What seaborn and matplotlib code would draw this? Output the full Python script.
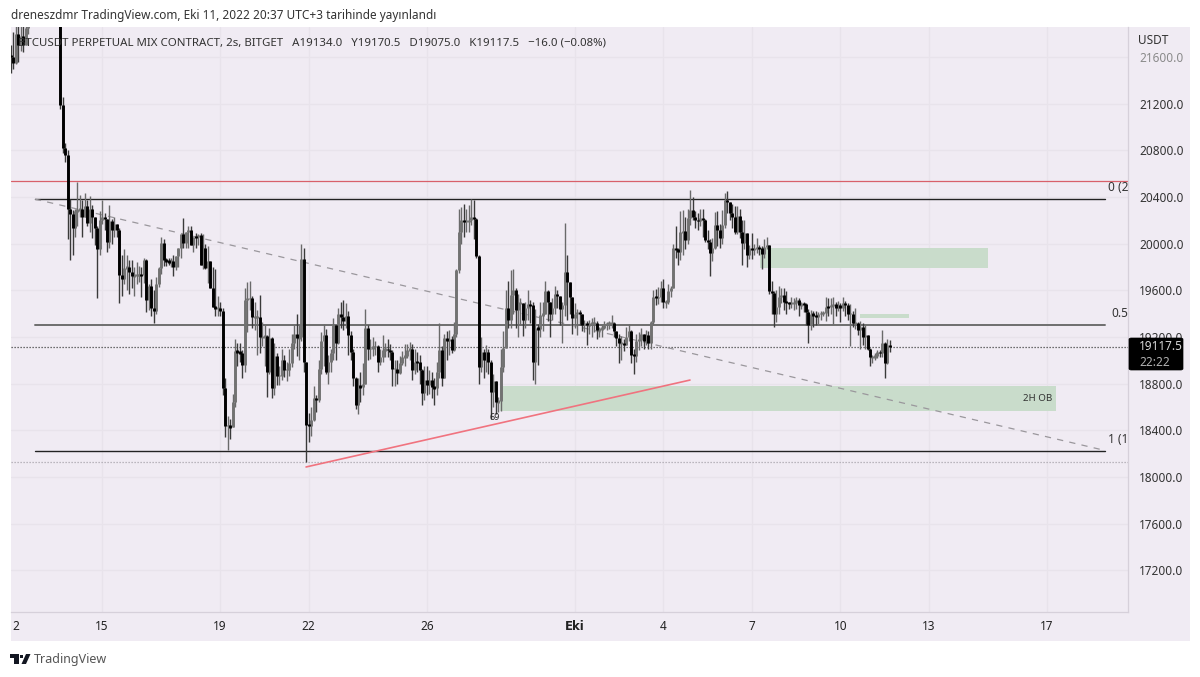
import numpy as np
import pandas as pd
import matplotlib
matplotlib.use('Agg')
import matplotlib.pyplot as plt
import seaborn as sns
from matplotlib.patches import Rectangle, Polygon, FancyBboxPatch

# 2h candles, one row per day of data (days counted from 15 Eylul)
closes = [
    21600,21550,21800,21700,21780,21700,21850,22100,22200,22300,22350,22400,
    22450,22500,22400,22350,22450,22500,22550,22450,21190,20820,20760,20300,
    20250,20130,20280,20290,20295,20230,20320,20180,20300,20230,20130,19950,
    20200,20230,20210,20010,20190,20120,20170,20120,19730,19700,19790,19800,
    19760,19720,19730,19730,19735,19730,19860,19520,19640,19450,19420,19650,
    19790,20005,19860,19850,19840,19850,19800,19890,19960,20080,20005,20100,
    20117,19990,20060,20055,20070,19820,19960,19790,19850,19620,19460,19450,
    19450,19420,18760,18440,18440,18430,18640,19080,19070,19060,18960,19520,
    19530,19530,19370,19370,19370,19200,19200,19210,18900,19190,18760,19040,
    18870,18870,19000,18920,18920,18980,19150,19230,19190,19200,19870,18990,
    18450,18440,18490,18680,18660,18930,19170,19220,18900,18990,19060,19300,
    19150,19400,19370,19340,19380,19220,19075,18850,18620,18780,18770,18800,
    19280,19100,19100,19120,19120,18990,19030,19090,19100,19085,19070,18930,
    18930,18890,18980,19030,19040,19090,19095,18920,18990,18985,18920,18720,
    18830,18790,18830,18770,18760,18900,19090,18850,19190,19170,19180,19090,
    19230,19770,20100,20200,20190,20195,20200,20225,20210,19890,18945,19070,
    19000,19070,18990,18730,18820,18640,18650,18940,19110,19450,19350,19560,
    19600,19430,19490,19490,19350,19450,19480,19475,18990,19280,19270,19390,
    19400,19590,19500,19400,19450,19570,19550,19440,19470,19760,19670,19540,
    19360,19400,19410,19400,19300,19320,19305,19310,19320,19320,19260,19270,
    19280,19310,19310,19320,19320,19250,19190,19150,19150,19130,19200,19250,
    19050,19040,19170,19175,19230,19170,19215,19150,19330,19545,19540,19540,
    19620,19500,19500,19590,19620,19960,19950,19930,20100,20105,20030,20220,
    20290,20230,20205,20190,20220,20200,20030,20015,19920,19960,20160,20120,
    20050,20160,20370,20360,20260,20230,20100,20240,20100,20005,20090,19905,
    19960,19945,19965,19965,19960,19915,19975,19990,19590,19575,19400,19460,
    19545,19560,19500,19495,19490,19490,19490,19515,19475,19485,19480,19415,
    19300,19400,19390,19375,19400,19400,19405,19460,19455,19475,19480,19450,
    19475,19450,19490,19475,19400,19400,19320,19320,19260,19290,19200,19220,
    19100,19030,19030,19040,19075,19060,19150,18975,19134,19117.5,
]
highs = [
    21700,21810,21880,21900,21900,21900,22000,22150,22300,22350,22450,22500,
    22550,22600,22500,22450,22550,22600,22650,22600,22500,21260,20860,20800,
    20380,20290,20300,20530,20420,20370,20430,20370,20410,20330,20230,20150,
    20280,20370,20260,20210,20330,20210,20230,20170,20130,19900,19950,19900,
    19860,19860,19800,19840,19810,19800,19880,19870,19650,19700,19600,19710,
    19800,20060,20040,19880,19880,19880,19900,19890,19900,20000,20220,20100,
    20150,20150,20050,20090,20080,20090,20080,20000,19980,19800,19800,19780,
    19550,19500,19450,18850,18520,18500,18710,19180,19150,19150,19090,19620,
    19670,19680,19550,19500,19430,19560,19330,19300,19220,19280,19200,19150,
    19060,18950,19100,19050,18990,19100,19230,19300,19400,19300,20000,19960,
    18990,18550,18600,18780,18700,19000,19240,19310,19270,19050,19100,19360,
    19200,19450,19500,19520,19490,19420,19250,19100,18860,18850,18900,18980,
    19440,19300,19180,19200,19170,19130,19100,19220,19150,19180,19140,19090,
    19000,19000,19040,19080,19140,19140,19160,19140,19100,19070,19050,18930,
    18950,18950,18920,18900,18850,18990,19320,19120,19230,19250,19260,19210,
    19330,19780,20297,20310,20340,20300,20330,20380,20370,20220,19900,19200,
    19100,19130,19100,19000,18880,18800,18690,19100,19250,19600,19680,19770,
    19780,19620,19570,19530,19480,19500,19600,19520,19500,19440,19310,19500,
    19500,19680,19600,19480,19530,19640,19600,19510,19500,20180,19900,19650,
    19450,19490,19440,19430,19400,19350,19340,19350,19360,19370,19340,19290,
    19300,19340,19330,19340,19390,19330,19250,19230,19210,19180,19290,19310,
    19260,19100,19230,19240,19280,19220,19260,19250,19340,19600,19610,19630,
    19680,19700,19520,19650,19640,20000,20150,19960,20280,20290,20230,20300,
    20460,20400,20280,20260,20300,20300,20210,20120,20040,20050,20270,20280,
    20170,20290,20430,20450,20360,20340,20320,20320,20300,20200,20200,20030,
    19990,20090,20000,20050,19990,19980,20040,20060,19990,19680,19590,19600,
    19640,19620,19620,19590,19500,19540,19530,19545,19530,19500,19500,19490,
    19440,19430,19420,19420,19410,19420,19420,19540,19530,19530,19540,19500,
    19510,19490,19540,19510,19490,19480,19420,19450,19330,19340,19320,19300,
    19210,19110,19050,19060,19090,19090,19260,19160,19180,19170.5,
]
lows = [
    21460,21500,21540,21560,21650,21640,21700,21800,22050,22150,22250,22300,
    22350,22380,22300,22300,22300,22430,22450,22350,21150,20780,20700,20040,
    19860,19900,20060,20150,20230,20060,20240,20150,20100,20050,19990,19530,
    19900,20170,20120,19930,19960,20000,20060,20060,19490,19550,19650,19600,
    19570,19620,19550,19650,19670,19540,19660,19410,19430,19380,19320,19400,
    19630,19740,19810,19810,19820,19800,19720,19770,19800,19880,19960,19960,
    19960,20000,19930,19960,19990,19970,19780,19780,19660,19650,19480,19380,
    19380,19380,18700,18340,18230,18330,18430,18600,18950,18990,18850,18900,
    19240,19430,19280,19260,19050,19060,19120,18950,18690,18880,18680,18700,
    18790,18790,18830,18860,18820,18870,18940,19100,19040,19000,19170,18900,
    18130,18300,18350,18480,18560,18640,18880,18950,18880,18800,18900,19000,
    19000,19140,19280,19260,19280,19050,19000,18780,18580,18540,18640,18700,
    18950,19000,19010,19040,19050,18900,18960,18990,19030,19030,19000,18780,
    18780,18800,18880,18960,18950,19020,19000,18830,18880,18900,18800,18620,
    18660,18700,18710,18680,18620,18700,18850,18780,18900,19000,19050,19060,
    19080,19200,19750,20000,20060,20100,20100,20160,20040,19880,18800,18900,
    18850,18900,18880,18500,18600,18540,18560,18570,18900,19200,19280,19280,
    19400,19280,19200,19300,19210,19280,19350,19320,18830,18800,18960,19200,
    19250,19400,19340,19200,19350,19400,19450,19300,19150,19380,19350,19400,
    19230,19280,19220,19300,19250,19240,19130,19230,19200,19240,19180,19200,
    19200,19270,19260,19270,19280,19200,19120,18980,19000,19080,19130,19170,
    18980,18880,18990,19090,19120,19100,19130,19100,19100,19300,19470,19480,
    19500,19450,19450,19480,19540,19620,19880,19820,19860,19900,19950,20000,
    20160,20200,20130,20120,20150,20060,20010,19950,19720,19850,19950,19980,
    19960,20000,20130,20260,20200,20130,20080,20080,20050,19820,19950,19800,
    19870,19870,19900,19920,19900,19780,19880,19950,19570,19400,19290,19330,
    19400,19490,19430,19400,19440,19450,19430,19440,19380,19440,19410,19300,
    19150,19260,19290,19300,19310,19350,19380,19340,19380,19400,19310,19380,
    19420,19330,19420,19380,19350,19120,19290,19270,19220,19100,19130,19100,
    19090,18950,18980,19000,19020,19030,19030,18850,18970,19075,
]
first_open = 21620
start_day = -3.08

price_ticks = [21600, 21200, 20800, 20400, 20000, 19600, 19200, 18800, 18400, 18000, 17600, 17200]
date_ticks = [0, 4, 7, 11, 16, 19, 22, 25, 28, 32]
date_labels = ['15', '19', '22', '26', 'Eki', '4', '7', '10', '13', '17']

fib_levels = [20382, 19303, 18227]
fib_labels = ['0 (2', '0.5', '1 (1']
fib_colors = ['#222222', '#6e6e6e', '#222222']
fib_widths = [1.0, 1.4, 1.0]
fib_span = [-2.27, 33.97]
upper_line = 20533
low_line = 18130
last_price = 19117.5
trend_days = [6.91, 19.91]
trend_prices = [18086, 18831]
zones = [(13.48, 32.31, 18566, 18780), (22.28, 30.0, 19791, 19963), (25.67, 27.33, 19363, 19397)]

BG = '#f0ebf3'
GRID = '#e8e3eb'


def fx(px):
    return px / 1200


def fy(py):
    return 1 - py / 677


sns.set_theme(style='white')
plt.rcParams['font.family'] = ['Noto Sans', 'DejaVu Sans']

fig = plt.figure(figsize=(12, 6.77), dpi=100)
fig.patch.set_facecolor('white')
fig.add_artist(Rectangle((fx(11), fy(641)), fx(1179), 614 / 677, transform=fig.transFigure,
                         fc=BG, ec='none', zorder=-1))
ax = fig.add_axes([fx(11), fy(612), fx(1117), 585 / 677])
ax.patch.set_alpha(0)

# candles
opens = [first_open] + closes[:-1]
rows_wick = []
rows_body = []
for i, (o, h, l, c) in enumerate(zip(opens, highs, lows, closes)):
    day = start_day + i / 12
    side = 'up' if c >= o else 'down'
    rows_wick += [(i, day, max(h, o, c), side), (i, day, min(l, o, c), side)]
    top, bot = max(o, c), min(o, c)
    if top - bot < 14:
        top, bot = top + 7, bot - 7
    rows_body += [(i, day, top, side), (i, day, bot, side)]
wicks = pd.DataFrame(rows_wick, columns=['candle', 'day', 'price', 'side'])
bodies = pd.DataFrame(rows_body, columns=['candle', 'day', 'price', 'side'])

sns.lineplot(data=wicks, x='day', y='price', units='candle', hue='side', estimator=None,
             palette={'up': '#6a6a6a', 'down': '#3a3a3a'}, hue_order=['up', 'down'], sort=False,
             errorbar=None, linewidth=1.0, legend=False, zorder=3, solid_capstyle='butt', ax=ax)
sns.lineplot(data=bodies, x='day', y='price', units='candle', hue='side', estimator=None,
             palette={'up': '#727272', 'down': '#000000'}, hue_order=['up', 'down'], sort=False,
             errorbar=None, linewidth=2.1, legend=False, zorder=4, solid_capstyle='butt', ax=ax)

# zones
for d0, d1, p0, p1 in zones:
    ax.add_patch(Rectangle((d0, p0), d1 - d0, p1 - p0, fc='#c9dccb', ec='none', zorder=1))
ax.text(32.17, (18566 + 18780) / 2, '2H OB', ha='right', va='center', fontsize=7, color='#333333', zorder=5)

# drawn lines
ax.axhline(upper_line, color='#d8606a', lw=0.9, zorder=2)
ax.axhline(last_price, color='#444444', lw=0.9, ls=(0, (1, 1.4)), zorder=2)
ax.axhline(low_line, color='#a9a5ad', lw=0.9, ls=(0, (1, 1.4)), zorder=2)
for level, color, width in zip(fib_levels, fib_colors, fib_widths):
    ax.plot(fib_span, [level, level], color=color, lw=width, zorder=2)
ax.plot(fib_span, [fib_levels[0], fib_levels[2]], color='#9a979c', lw=0.9, ls=(0, (5, 5)), zorder=2)
ax.plot(trend_days, trend_prices, color='#f0737f', lw=1.2, zorder=5)
for level, label, dy in zip(fib_levels, fib_labels, [100, 100, 95]):
    ax.text(34.74, level + dy, label, ha='right', va='center', fontsize=8.5, color='#333333', zorder=5)
ax.text(13.3, 18514, '69', ha='center', va='center', fontsize=6.5, color='#222222', zorder=6)

# axes
ax.set_xlim(start_day, 34.74)
ax.set_ylim(16843, 21857)
ax.set_xlabel('')
ax.set_ylabel('')
ax.yaxis.tick_right()
ax.set_yticks(price_ticks)
ax.set_yticklabels([f'{p:.1f}' for p in price_ticks])
ax.set_xticks(date_ticks)
ax.set_xticklabels(date_labels)
ax.grid(True, color=GRID, lw=0.9)
ax.set_axisbelow(True)
ax.tick_params(axis='y', length=0, pad=8, labelsize=8.5, labelcolor='#333333')
ax.tick_params(axis='x', length=0, pad=6, labelsize=8.5, labelcolor='#222222')
ax.get_yticklabels()[0].set_color('#8a8a8a')
plt.setp(ax.get_xticklabels()[4], fontweight='bold', family='DejaVu Sans')
for side in ['top', 'left']:
    ax.spines[side].set_visible(False)
for side in ['right', 'bottom']:
    ax.spines[side].set_color('#d6d0da')
    ax.spines[side].set_linewidth(0.9)

# price box
ax.add_patch(FancyBboxPatch((fx(1129), fy(370)), fx(54), 32 / 677, boxstyle='round,pad=0,rounding_size=0.002',
                            transform=fig.transFigure, fc='black', ec='black', lw=0.5, clip_on=False, zorder=20))
ax.text(fx(1139), fy(347), '19117.5', transform=fig.transFigure, ha='left', va='center', fontsize=8.5,
        color='#d8d8d8', clip_on=False, zorder=21)
ax.text(fx(1139), fy(362), '22:22', transform=fig.transFigure, ha='left', va='center', fontsize=8.5,
        color='#b0b0b0', clip_on=False, zorder=21)

# texts around the chart
fig.text(fx(11), fy(16), 'dreneszdmr TradingView.com, Eki 11, 2022 20:37 UTC+3 tarihinde yayınlandı',
         ha='left', va='center', fontsize=8.5, color='#333333')
ax.text(fx(18), fy(43), 'BTCUSDT PERPETUAL MIX CONTRACT, 2s, BITGET   A19134.0   Y19170.5   D19075.0   K19117.5   −16.0 (−0.08%)',
        transform=fig.transFigure, ha='left', va='center', fontsize=8.25, color='#333333', zorder=6)
fig.text(fx(1138), fy(41), 'USDT', ha='left', va='center', fontsize=8.5, color='#333333')
fig.text(fx(16), fy(626), '2', ha='center', va='center', fontsize=8.5, color='#222222')
fig.text(fx(34), fy(660), 'TradingView', ha='left', va='center', fontsize=9, color='#555555')

# logo
logo = [
    [(10, 654), (19, 654), (19, 664), (14, 664), (14, 658), (10, 658)],
    [(26, 654), (30.5, 654), (26, 664), (21.5, 664)],
]
for pts in logo:
    fig.add_artist(Polygon([(fx(x), fy(y)) for x, y in pts], transform=fig.transFigure, fc='#131722', ec='none'))
fig.add_artist(Rectangle((fx(20), fy(658)), fx(3), 3 / 677, transform=fig.transFigure, fc='#131722', ec='none'))

fig.savefig('out.png', dpi=100)
